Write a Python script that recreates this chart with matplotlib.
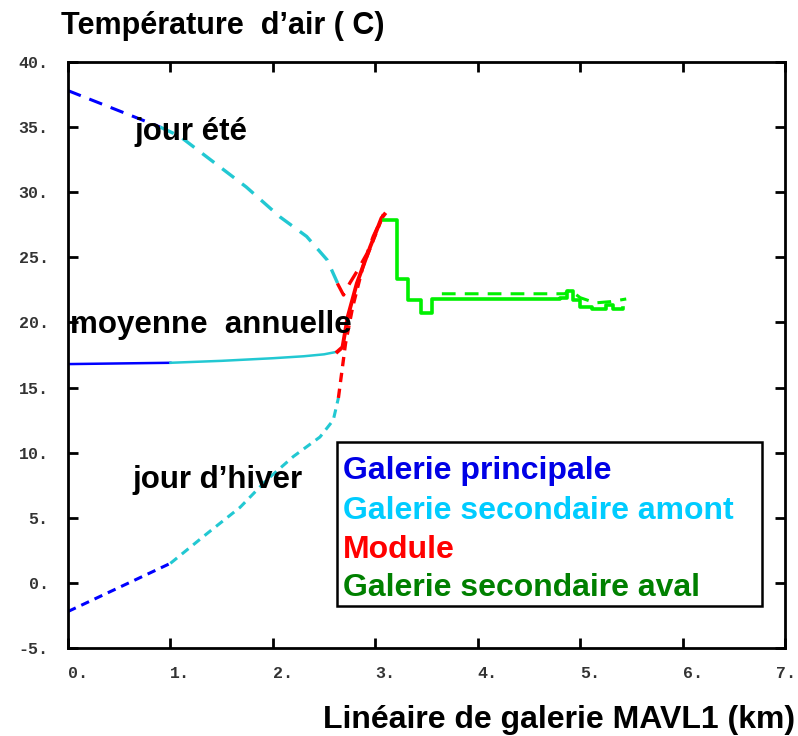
import matplotlib
matplotlib.use("Agg")
import matplotlib.pyplot as plt
import matplotlib.transforms as mtransforms
from matplotlib.patches import Rectangle

BLUE = "#0000ff"
CYAN = "#22c8d2"
RED = "#ff0000"
LIME = "#00f000"

# summer day (dashed)
ete_princ_x = [0.0, 0.9]
ete_princ_y = [37.8, 35.0]
ete_amont_x = [0.9, 1.09, 1.39, 1.74, 2.07, 2.33, 2.53, 2.65]
ete_amont_y = [35.0, 34.3, 32.5, 30.4, 28.1, 26.6, 24.8, 22.7]
ete_module_x = [2.63, 2.69, 2.75, 2.82, 2.92, 2.98, 3.04, 3.08]
ete_module_y = [23.0, 22.1, 23.0, 23.9, 25.3, 26.6, 27.6, 28.3]

# annual mean (solid)
moy_princ_x = [0.0, 1.0]
moy_princ_y = [16.8, 16.9]
moy_amont_x = [1.0, 1.5, 2.0, 2.3, 2.5, 2.63]
moy_amont_y = [16.9, 17.05, 17.25, 17.4, 17.55, 17.75]
moy_module_x = [2.63, 2.68, 2.73, 2.82, 2.95, 3.06, 3.09]
moy_module_y = [17.75, 18.1, 20.4, 23.0, 25.8, 28.0, 28.3]

# winter day (dashed)
hiv_princ_x = [0.0, 1.0]
hiv_princ_y = [-2.2, 1.5]
hiv_amont_x = [1.0, 1.36, 1.68, 1.94, 2.2, 2.46, 2.59, 2.64]
hiv_amont_y = [1.5, 3.8, 5.8, 7.9, 9.7, 11.2, 12.5, 14.2]
hiv_module_x = [2.64, 2.71, 2.78, 2.88, 3.01, 3.08]
hiv_module_y = [14.2, 18.4, 21.2, 24.3, 26.9, 28.3]

# downstream gallery, stepped profile
aval_x = [3.09, 3.21, 3.32, 3.45, 3.55, 3.7, 4.0, 4.4, 4.8, 4.87, 4.93, 5.0, 5.12, 5.25, 5.32, 5.42]
aval_y = [27.9, 23.3, 21.7, 20.7, 21.8, 21.8, 21.8, 21.8, 21.9, 22.4, 21.7, 21.2, 21.0, 21.3, 21.0, 21.1]
aval2_x = [3.65, 4.0, 4.4, 4.85, 4.9, 5.0, 5.15, 5.3, 5.45]
aval2_y = [22.2, 22.2, 22.2, 22.2, 22.5, 21.9, 21.5, 21.6, 21.8]

legend_labels = ["Galerie principale", "Galerie secondaire amont", "Module",
                 "Galerie secondaire aval"]
legend_colors = ["#0000e6", "#00ccff", "#ff0000", "#008000"]

fig = plt.figure(figsize=(7.98, 7.36), dpi=100)
ax = fig.add_axes([0.0852, 0.1196, 0.8985, 0.7962])

long_dash = (0, (4.5, 3))
short_dash = (0, (2.8, 2))

ax.plot(ete_princ_x, ete_princ_y, color=BLUE, lw=2.2, linestyle=long_dash)
ax.plot(ete_amont_x, ete_amont_y, color=CYAN, lw=2.4, linestyle=long_dash)
ax.plot(ete_module_x, ete_module_y, color=RED, lw=2.4, linestyle=long_dash)

ax.plot(moy_princ_x, moy_princ_y, color=BLUE, lw=1.8)
ax.plot(moy_amont_x, moy_amont_y, color=CYAN, lw=1.8)
ax.plot(moy_module_x, moy_module_y, color=RED, lw=2.8)

ax.plot(hiv_princ_x, hiv_princ_y, color=BLUE, lw=2.2, linestyle=short_dash)
ax.plot(hiv_amont_x, hiv_amont_y, color=CYAN, lw=2.2, linestyle=short_dash)
ax.plot(hiv_module_x, hiv_module_y, color=RED, lw=2.4, linestyle=short_dash)

ax.plot(aval_x, aval_y, color=LIME, lw=2.6, drawstyle="steps-post")
ax.plot(aval2_x, aval2_y, color=LIME, lw=2.2, linestyle=long_dash)

ax.set_xlim(0, 7)
ax.set_ylim(-5, 40)
ax.set_xticks(range(0, 8))
ax.set_xticklabels([f"{v}." for v in range(0, 8)], ha="left")
ax.set_yticks(range(-5, 41, 5))
ax.set_yticklabels([f"{v}." for v in range(-5, 41, 5)])
ax.tick_params(direction="in", length=7, width=2, top=True, right=True)
ax.tick_params(axis="x", pad=13)
ax.tick_params(axis="y", pad=14)
for sp in ax.spines.values():
    sp.set_linewidth(2)
for lab in ax.get_xticklabels() + ax.get_yticklabels():
    lab.set_fontfamily("Liberation Mono")
    lab.set_fontweight("bold")
    lab.set_fontsize(12)
    lab.set_color("#333333")
# pull the last x label ("7.") back so it stays inside the figure
last = ax.get_xticklabels()[-1]
shift = mtransforms.ScaledTranslation(-9 / 100, 0, fig.dpi_scale_trans)
last.set_transform(last.get_transform() + shift)

note = dict(fontsize=22.5, fontweight="bold", family="Liberation Sans", va="center")
ax.text(0.65, 34.6, "jour été", **note)
ax.text(0.02, 19.8, "moyenne  annuelle", **note)
ax.text(0.63, 7.9, "jour d\u2019hiver", **note)

# legend drawn as a framed box of coloured labels
ax.add_patch(Rectangle((0.375, 0.072), 0.593, 0.279, transform=ax.transAxes,
                       facecolor="white", edgecolor="black", linewidth=1.8, zorder=5))
legend_y = [0.302, 0.234, 0.167, 0.1025]
for label, c, yy in zip(legend_labels, legend_colors, legend_y):
    ax.text(0.3835, yy, label, color=c, transform=ax.transAxes, fontsize=23,
            fontweight="bold", family="Liberation Sans", va="center", zorder=6)

fig.text(0.076, 0.985, "Température  d\u2019air ( C)", fontsize=22, fontweight="bold",
         family="Liberation Sans", va="top", ha="left")
fig.text(0.997, 0.002, "Linéaire de galerie MAVL1 (km)", fontsize=23, fontweight="bold",
         family="Liberation Sans", va="bottom", ha="right")

fig.savefig("out.png", dpi=100, facecolor="white")
